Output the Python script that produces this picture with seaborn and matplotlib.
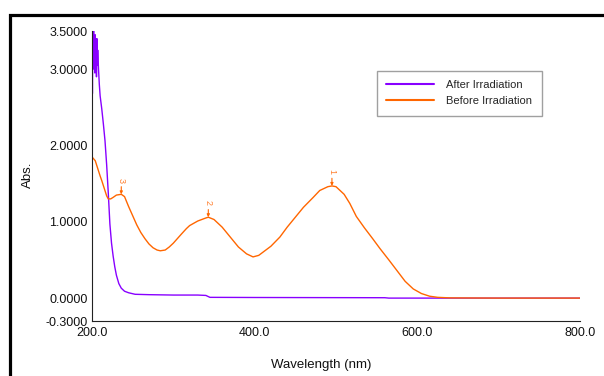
import matplotlib
matplotlib.use("Agg")
import matplotlib.pyplot as plt
from matplotlib.patches import Rectangle
import seaborn as sns
import pandas as pd

# ---- data ----
after_nm = [200.0, 200.5, 201.0, 201.5, 202.0, 202.5, 203.0, 203.5, 204.0, 204.5,
            205.0, 205.5, 206.0, 206.5, 207.0, 208.0, 209.0, 210.0, 212.0, 214.0,
            216.0, 218.0, 220.0, 222.0, 224.0, 226.0, 228.0, 230.0, 233.0, 236.0,
            240.0, 245.0, 253.0, 270.0, 300.0, 330.0, 340.0, 345.0, 400.0, 560.0,
            565.0, 800.0]
after_abs = [3.50, 2.68, 3.40, 3.05, 3.50, 3.00, 3.35, 2.95, 3.45, 3.10,
             3.30, 2.90, 3.40, 3.05, 3.25, 3.00, 2.80, 2.65, 2.48, 2.28,
             2.06, 1.75, 1.38, 0.97, 0.72, 0.55, 0.41, 0.30, 0.19, 0.13,
             0.09, 0.07, 0.05, 0.045, 0.04, 0.04, 0.035, 0.01, 0.008, 0.005,
             0.0, 0.0]

before_nm = [200, 204, 207, 210, 212, 215, 218, 220, 223, 226, 230, 236, 240, 245,
             250, 255, 260, 265, 270, 275, 280, 284, 290, 295, 300, 310, 316, 320,
             330, 340, 343, 350, 360, 370, 380, 390, 398, 405, 410, 420, 431, 440,
             450, 460, 472, 480, 490, 495, 500, 510, 517, 525, 535, 545, 554, 565,
             575, 585, 595, 605, 615, 625, 640, 700, 800]
before_abs = [1.85, 1.80, 1.70, 1.60, 1.54, 1.44, 1.34, 1.30, 1.30, 1.32, 1.35, 1.36,
              1.33, 1.20, 1.08, 0.96, 0.86, 0.78, 0.71, 0.66, 0.63, 0.62, 0.63, 0.67,
              0.72, 0.84, 0.91, 0.95, 1.01, 1.05, 1.06, 1.03, 0.93, 0.80, 0.67, 0.58,
              0.54, 0.56, 0.60, 0.68, 0.80, 0.93, 1.06, 1.19, 1.32, 1.41, 1.46, 1.47,
              1.46, 1.36, 1.24, 1.07, 0.92, 0.78, 0.65, 0.50, 0.36, 0.22, 0.12, 0.06,
              0.025, 0.01, 0.003, 0.0, 0.0]

series_names = ["After Irradiation", "Before Irradiation"]
series_colors = ["#8800FF", "#FF6600"]

peak_labels = ["1", "2", "3"]
peak_nm = [495, 343, 236]
peak_abs = [1.47, 1.06, 1.36]

x_ticks = [200, 400, 600, 800]
y_ticks = [-0.3, 0.0, 1.0, 2.0, 3.0, 3.5]

df = pd.concat([
    pd.DataFrame({"Wavelength": after_nm, "Abs": after_abs, "Series": series_names[0]}),
    pd.DataFrame({"Wavelength": before_nm, "Abs": before_abs, "Series": series_names[1]}),
], ignore_index=True)

# ---- style ----
sns.set_style("white")
plt.rcParams["font.family"] = ["Liberation Sans", "DejaVu Sans"]

fig = plt.figure(figsize=(6.04, 3.76), dpi=100)
ax = fig.add_axes([92 / 604, 1 - 321 / 376, (580 - 92) / 604, (321 - 31) / 376])

sns.lineplot(data=df, x="Wavelength", y="Abs", hue="Series", hue_order=series_names,
             palette=series_colors, estimator=None, sort=False, linewidth=1.0, ax=ax)

ax.set_xlim(200, 800)
ax.set_ylim(-0.3, 3.5)
ax.set_xticks(x_ticks)
ax.set_xticklabels([f"{v:.1f}" for v in x_ticks])
ax.set_yticks(y_ticks)
ax.set_yticklabels([f"{v:.4f}" for v in y_ticks])
ax.tick_params(axis="both", direction="in", length=5, width=0.8, colors="#222222",
               labelsize=9, labelcolor="#111111")
ax.tick_params(axis="x", pad=4)
ax.tick_params(axis="y", pad=3)

for s in ["top", "right"]:
    ax.spines[s].set_visible(False)
for s in ["left", "bottom"]:
    ax.spines[s].set_color("#222222")
    ax.spines[s].set_linewidth(0.8)

ax.set_xlabel("Wavelength (nm)", fontsize=9.5, color="#111111")
ax.set_ylabel("Abs.", fontsize=9.5, color="#111111")
ax.xaxis.set_label_coords((321 - 92) / 488, -38 / 290)
ax.yaxis.set_label_coords((34 - 92) / 488, (321 - 175) / 290)

# peak markers
for lab, nm, ab in zip(peak_labels, peak_nm, peak_abs):
    ax.annotate("", xy=(nm, ab), xytext=(0, 5.5), textcoords="offset points",
                arrowprops=dict(arrowstyle="-|>", color="#FF6600", lw=0.8,
                                mutation_scale=4, shrinkA=0, shrinkB=0))
    ax.annotate(lab, xy=(nm, ab), xytext=(0, 8.5), textcoords="offset points",
                ha="center", va="bottom", rotation=270, fontsize=6.5,
                color="#FF8030")

leg = ax.legend(loc="upper left", bbox_to_anchor=((377 - 92) / 488, (321 - 70.5) / 290),
                borderaxespad=0, fontsize=8, handlelength=4.3, handletextpad=1.1,
                borderpad=0.85, labelspacing=0.55, fancybox=False, frameon=True,
                title=None)
leg.get_frame().set_edgecolor("#888888")
leg.get_frame().set_linewidth(1.0)
for line in leg.get_lines():
    line.set_linewidth(1.5)

# outer black frame
fig.patches.append(Rectangle((9.5 / 604, -0.1), 1.2, (376 - 14.5) / 376 + 0.1,
                             transform=fig.transFigure, fill=False, lw=2.3,
                             ec="black", clip_on=False))

fig.savefig("out.png", dpi=100)
